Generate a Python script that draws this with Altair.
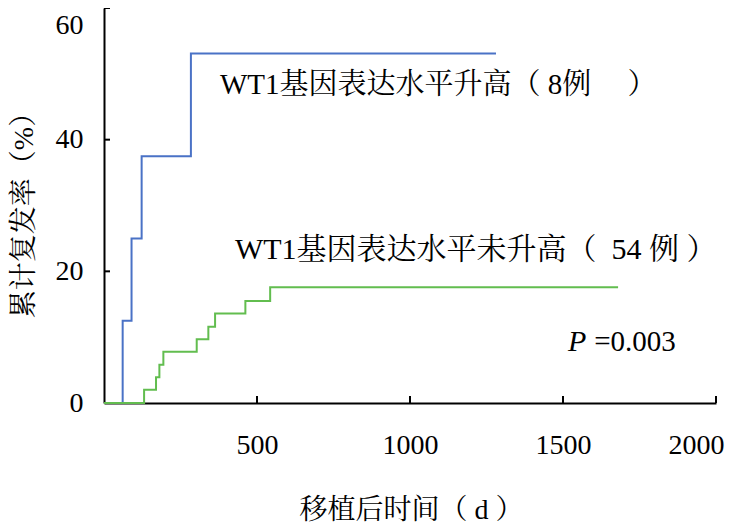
import altair as alt
import pandas as pd

# Cumulative relapse curves (step functions)
blue_t = [0, 61, 90, 123, 284, 1281]
blue_v = [0, 12.5, 25.0, 37.5, 53.1, 53.1]
green_t = [0, 131, 170, 181, 194, 303, 341, 363, 462, 543, 1680]
green_v = [0, 2.0, 3.9, 5.8, 7.8, 9.7, 11.6, 13.6, 15.5, 17.6, 17.6]

x_ticks = [500, 1000, 1500, 2000]
y_ticks = [0, 20, 40, 60]
y_tick_marks = [20, 40, 60]

label1_text = ["WT1基因表达水平升高（\u00a08例\u00a0\u00a0\u00a0\u00a0\u00a0）"]
label1_t = [379]
label1_v = [48.3]
label2_text = ["WT1基因表达水平未升高（\u00a0\u00a054\u00a0例\u00a0）"]
label2_t = [428]
label2_v = [23.2]
p_text = ["P", "=0.003"]
p_t = [1516, 1602]
p_v = [9.3, 9.3]

SERIF = "Liberation Serif"
CJK = "Liberation Serif, Noto Serif CJK SC, Noto Sans CJK SC"
BLUE = "#4a72c6"
GREEN = "#62bd4f"

df_blue = pd.DataFrame({"t": blue_t, "v": blue_v})
df_green = pd.DataFrame({"t": green_t, "v": green_v})
df_l1 = pd.DataFrame({"t": label1_t, "v": label1_v, "label": label1_text})
df_l2 = pd.DataFrame({"t": label2_t, "v": label2_v, "label": label2_text})
df_p = pd.DataFrame({"t": p_t, "v": p_v, "label": p_text})
df_xt = pd.DataFrame({"t": x_ticks})
df_yt = pd.DataFrame({"v": y_tick_marks})

xscale = alt.Scale(domain=[0, 2000], nice=False, zero=True)
yscale = alt.Scale(domain=[0, 60], nice=False, zero=True)

x_axis = alt.Axis(
    values=x_ticks, format="d", title="移植后时间（\u00a0d\u00a0）", ticks=False, grid=False,
    labelPadding=28, labelFlush=True, labelFlushOffset=8,
    labelFont=SERIF, labelFontSize=28,
    labelColor="black", domainColor="black", domainWidth=2,
    titleFont=CJK, titleFontSize=28, titleFontWeight="normal", titleColor="black",
    titleX=307, titleY=107, titleBaseline="middle",
)
y_axis = alt.Axis(
    values=y_ticks, title="累计复发率（%）", ticks=False, grid=False,
    labelPadding=21, labelFont=SERIF, labelFontSize=28, labelColor="black",
    labelBaseline={"condition": {"test": "datum.value == 60", "value": "top"}, "value": "middle"},
    labelOffset={"condition": {"test": "datum.value == 60", "value": 3}, "value": 0},
    domainColor="black", domainWidth=2,
    titleFont=CJK, titleFontSize=28, titleFontWeight="normal", titleColor="black",
    titleX=-80, titleY=200, titleAngle=-90, titleBaseline="middle", titleAlign="center",
)

blue = alt.Chart(df_blue).mark_line(interpolate="step-after", color=BLUE, strokeWidth=2).encode(
    x=alt.X("t:Q", scale=xscale, axis=x_axis),
    y=alt.Y("v:Q", scale=yscale, axis=y_axis),
)
green = alt.Chart(df_green).mark_line(interpolate="step-after", color=GREEN, strokeWidth=2).encode(
    x=alt.X("t:Q", scale=xscale),
    y=alt.Y("v:Q", scale=yscale),
)
xt = alt.Chart(df_xt).mark_rule(color="black", strokeWidth=2).encode(
    x=alt.X("t:Q", scale=xscale), y=alt.value(395), y2=alt.value(388)
)
yt = alt.Chart(df_yt).mark_rule(color="black", strokeWidth=2).encode(
    y=alt.Y("v:Q", scale=yscale), x=alt.value(0), x2=alt.value(6)
)
label1 = alt.Chart(df_l1).mark_text(
    align="left", baseline="middle", font=CJK, fontSize=29, color="black"
).encode(x=alt.X("t:Q", scale=xscale), y=alt.Y("v:Q", scale=yscale), text="label:N")
label2 = alt.Chart(df_l2).mark_text(
    align="left", baseline="middle", font=CJK, fontSize=30, color="black"
).encode(x=alt.X("t:Q", scale=xscale), y=alt.Y("v:Q", scale=yscale), text="label:N")
p_italic = alt.Chart(df_p.iloc[[0]]).mark_text(
    align="left", baseline="middle", font=SERIF, fontSize=30, fontStyle="italic", color="black"
).encode(x=alt.X("t:Q", scale=xscale), y=alt.Y("v:Q", scale=yscale), text="label:N")
p_rest = alt.Chart(df_p.iloc[[1]]).mark_text(
    align="left", baseline="middle", font=SERIF, fontSize=29, color="black"
).encode(x=alt.X("t:Q", scale=xscale), y=alt.Y("v:Q", scale=yscale), text="label:N")

chart = alt.layer(blue, green, xt, yt, label1, label2, p_italic, p_rest).properties(
    width=612, height=395,
    autosize=alt.AutoSizeParams(type="none"),
    padding={"left": 96, "top": 0, "right": 11, "bottom": 120},
    background="white",
).configure_view(stroke=None)

chart.save("out.html", embed_options={"renderer": "svg", "actions": False})
